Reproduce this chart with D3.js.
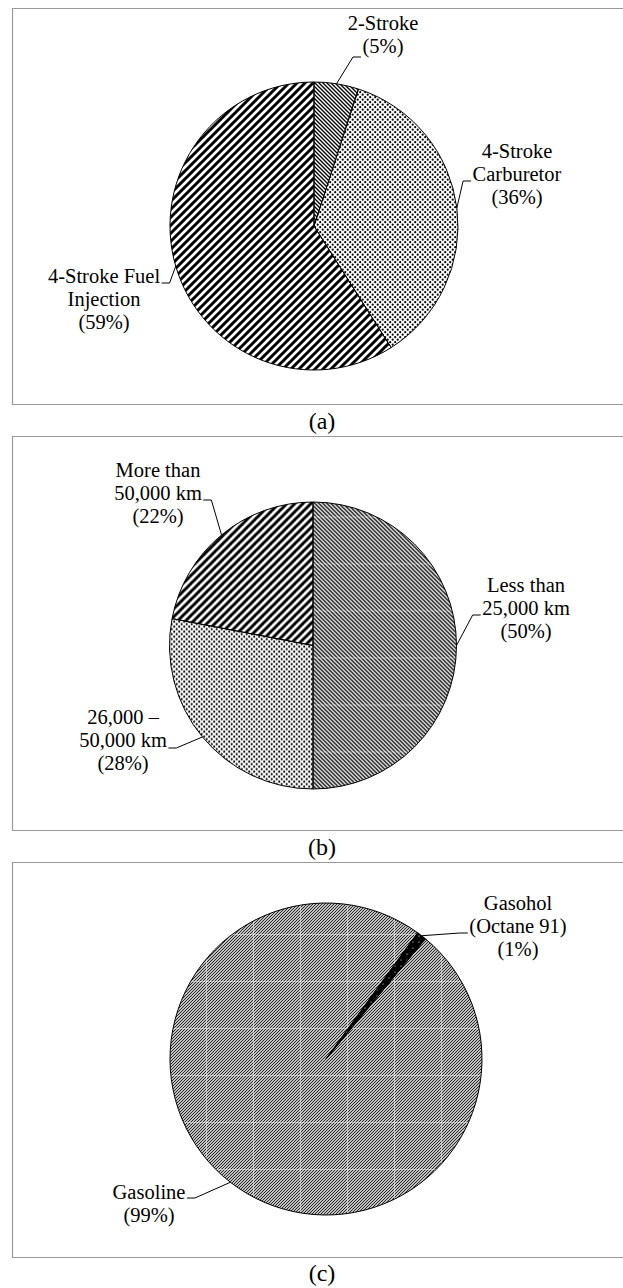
<!DOCTYPE html>
<html>
<head>
<meta charset="utf-8">
<script src="https://cdn.jsdelivr.net/npm/d3@7/dist/d3.min.js"></script>
<style>
  html, body { margin: 0; padding: 0; background: #fff; }
  svg { display: block; }
</style>
</head>
<body>
<svg id="fig" width="623" height="1288"></svg>
<script>
// (a) engine type
const engineTypes = ["2-Stroke", "4-Stroke Carburetor", "4-Stroke Fuel Injection"];
const engineShares = [5, 36, 59];
const engineLabelLines = [["2-Stroke"], ["4-Stroke", "Carburetor"], ["4-Stroke Fuel", "Injection"]];

// (b) accumulated mileage
const mileageBands = ["Less than 25,000 km", "26,000 – 50,000 km", "More than 50,000 km"];
const mileageShares = [50, 28, 22];
const mileageLabelLines = [["Less than", "25,000 km"], ["26,000 –", "50,000 km"], ["More than", "50,000 km"]];

// (c) fuel used
const fuelTypes = ["Gasohol (Octane 91)", "Gasoline"];
const fuelShares = [1, 99];
const fuelLabelLines = [["Gasohol", "(Octane 91)"], ["Gasoline"]];

const panelCaptions = ["(a)", "(b)", "(c)"];

// ---- layout ----
const W = 623;
const deg = Math.PI / 180;
const FONT = "'Liberation Serif', 'Times New Roman', 'DejaVu Serif', serif";
const panels = [
  { top: 8, bottom: 404, captionY: 429, cx: 314, cy: 226, r: 144, start: 0,
    cats: engineTypes, values: engineShares, lines: engineLabelLines,
    fills: ["fineBack", "dots", "wideDiag"], seams: [null, null, null],
    labels: [
      { x: 383, y: 30, side: "left", at: 1, dy: 4 },
      { x: 517, y: 158, side: "left", at: 1, dy: 0 },
      { x: 104, y: 283, side: "right", at: 0, dy: 0 }
    ] },
  { top: 436, bottom: 830, captionY: 855, cx: 313, cy: 645.5, r: 143.5, start: 0,
    cats: mileageBands, values: mileageShares, lines: mileageLabelLines,
    fills: ["fineBack", "dots", "wideDiag"], seams: ["seamB", null, null],
    labels: [
      { x: 526, y: 592, side: "left", at: 1, dy: 0 },
      { x: 123, y: 724, side: "right", at: 1, dy: 1 },
      { x: 158, y: 477, side: "right", at: 1, dy: 0 }
    ] },
  { top: 862, bottom: 1257, captionY: 1281, cx: 326, cy: 1059, r: 156, start: 36 * deg,
    cats: fuelTypes, values: fuelShares, lines: fuelLabelLines,
    fills: ["blackDots", "fineDiag"], seams: [null, "seamC"],
    labels: [
      { x: 518, y: 910, side: "left", at: 1, dy: 0 },
      { x: 149, y: 1199, side: "right", at: 0, dy: -1 }
    ] }
];
const lineGap = 23;
const labelSize = 20.5;

const svg = d3.select("#fig");
const defs = svg.append("defs");

// ---- fill patterns ----
function pattern(id, w, h, opts = {}) {
  const p = defs.append("pattern").attr("id", id)
    .attr("patternUnits", "userSpaceOnUse")
    .attr("width", w).attr("height", h)
    .attr("x", opts.x || 0).attr("y", opts.y || 0);
  if (opts.bg) p.append("rect").attr("width", w).attr("height", h).attr("fill", opts.bg);
  return p;
}
// wide up-right stripes
pattern("wideDiag", 8, 8, { bg: "#fff" }).append("path")
  .attr("d", "M-2,2 L2,-2 M0,8 L8,0 M6,10 L10,6")
  .attr("stroke", "#000").attr("stroke-width", 3);
// fine down-right hatch
pattern("fineBack", 4, 4, { bg: "#fff" }).append("path")
  .attr("d", "M0,0 L4,4 M-1,3 L1,5 M3,-1 L5,1")
  .attr("stroke", "#000").attr("stroke-width", 1.35);
// stipple dots
{
  const p = pattern("dots", 5, 5, { bg: "#fff" });
  p.append("circle").attr("cx", 1.2).attr("cy", 1.2).attr("r", 1.1).attr("fill", "#000");
  p.append("circle").attr("cx", 3.7).attr("cy", 3.7).attr("r", 1.1).attr("fill", "#000");
}
// thin up-right hatch
pattern("fineDiag", 3, 3, { bg: "#fff" }).append("path")
  .attr("d", "M0,3 L3,0 M-1,1 L1,-1 M2,4 L4,2")
  .attr("stroke", "#1a1a1a").attr("stroke-width", 1.05);
// dark fill with light specks
{
  const p = pattern("blackDots", 6, 6, { bg: "#000" });
  p.append("circle").attr("cx", 3).attr("cy", 3).attr("r", 0.6).attr("fill", "#fff");
}
// tile seams of the hatch fills
pattern("seamC", 47, 47, { x: 21, y: 16 }).append("path")
  .attr("d", "M0,0.5 H47 M0.5,0 V47")
  .attr("stroke", "#fff").attr("stroke-opacity", 0.5).attr("stroke-width", 1);
pattern("seamB", 47, 47, { x: 22, y: 12 }).append("path")
  .attr("d", "M0,0.5 H47")
  .attr("stroke", "#fff").attr("stroke-opacity", 0.4).attr("stroke-width", 1);

// ---- panels ----
panels.forEach((P, pi) => {
  const g = svg.append("g");

  // frame (open to the right edge)
  g.append("path")
    .attr("d", `M${W + 5},${P.top + 0.5} H12.5 V${P.bottom + 0.5} H${W + 5}`)
    .attr("fill", "none").attr("stroke", "#9a9a9a").attr("stroke-width", 1.2);

  g.append("text")
    .attr("x", 322).attr("y", P.captionY)
    .attr("text-anchor", "middle")
    .attr("font-family", FONT).attr("font-size", 24).attr("fill", "#000")
    .text(panelCaptions[pi]);

  const pie = d3.pie().sort(null).value(d => d)
    .startAngle(P.start).endAngle(P.start + 2 * Math.PI);
  const arcs = pie(P.values);
  const arc = d3.arc().innerRadius(0).outerRadius(P.r);

  const pg = g.append("g").attr("transform", `translate(${P.cx},${P.cy})`);
  pg.selectAll("path.slice").data(arcs).join("path")
    .attr("class", "slice")
    .attr("d", arc)
    .attr("fill", (d, i) => `url(#${P.fills[i]})`);
  pg.selectAll("path.seam").data(arcs.filter((d, i) => P.seams[i])).join("path")
    .attr("class", "seam")
    .attr("d", arc)
    .attr("fill", d => `url(#${P.seams[d.index]})`);
  pg.selectAll("path.edge").data(arcs).join("path")
    .attr("class", "edge")
    .attr("d", arc)
    .attr("fill", "none").attr("stroke", "#000").attr("stroke-width", 1)
    .attr("stroke-linejoin", "round");

  // labels with leader lines
  arcs.forEach((a, i) => {
    const L = P.labels[i];
    const lines = P.lines[i].concat([`(${P.values[i]}%)`]);
    const t = g.append("text")
      .attr("text-anchor", "middle")
      .attr("font-family", FONT).attr("font-size", labelSize).attr("fill", "#000");
    const spans = lines.map((s, k) =>
      t.append("tspan").attr("x", L.x).attr("y", L.y + k * lineGap).text(s));
    const w = spans[L.at].node().getComputedTextLength();
    const ay = L.y + L.at * lineGap + L.dy;
    const mid = (a.startAngle + a.endAngle) / 2;
    const tx = P.cx + P.r * Math.sin(mid);
    const ty = P.cy - P.r * Math.cos(mid);
    const ax = L.side === "left" ? L.x - w / 2 - 1.5 : L.x + w / 2 + 1.5;
    const hx = L.side === "left" ? ax - 8 : ax + 8;
    g.append("path")
      .attr("d", `M${ax},${ay} H${hx} L${tx},${ty}`)
      .attr("fill", "none").attr("stroke", "#000").attr("stroke-width", 1);
  });
});
</script>
</body>
</html>
